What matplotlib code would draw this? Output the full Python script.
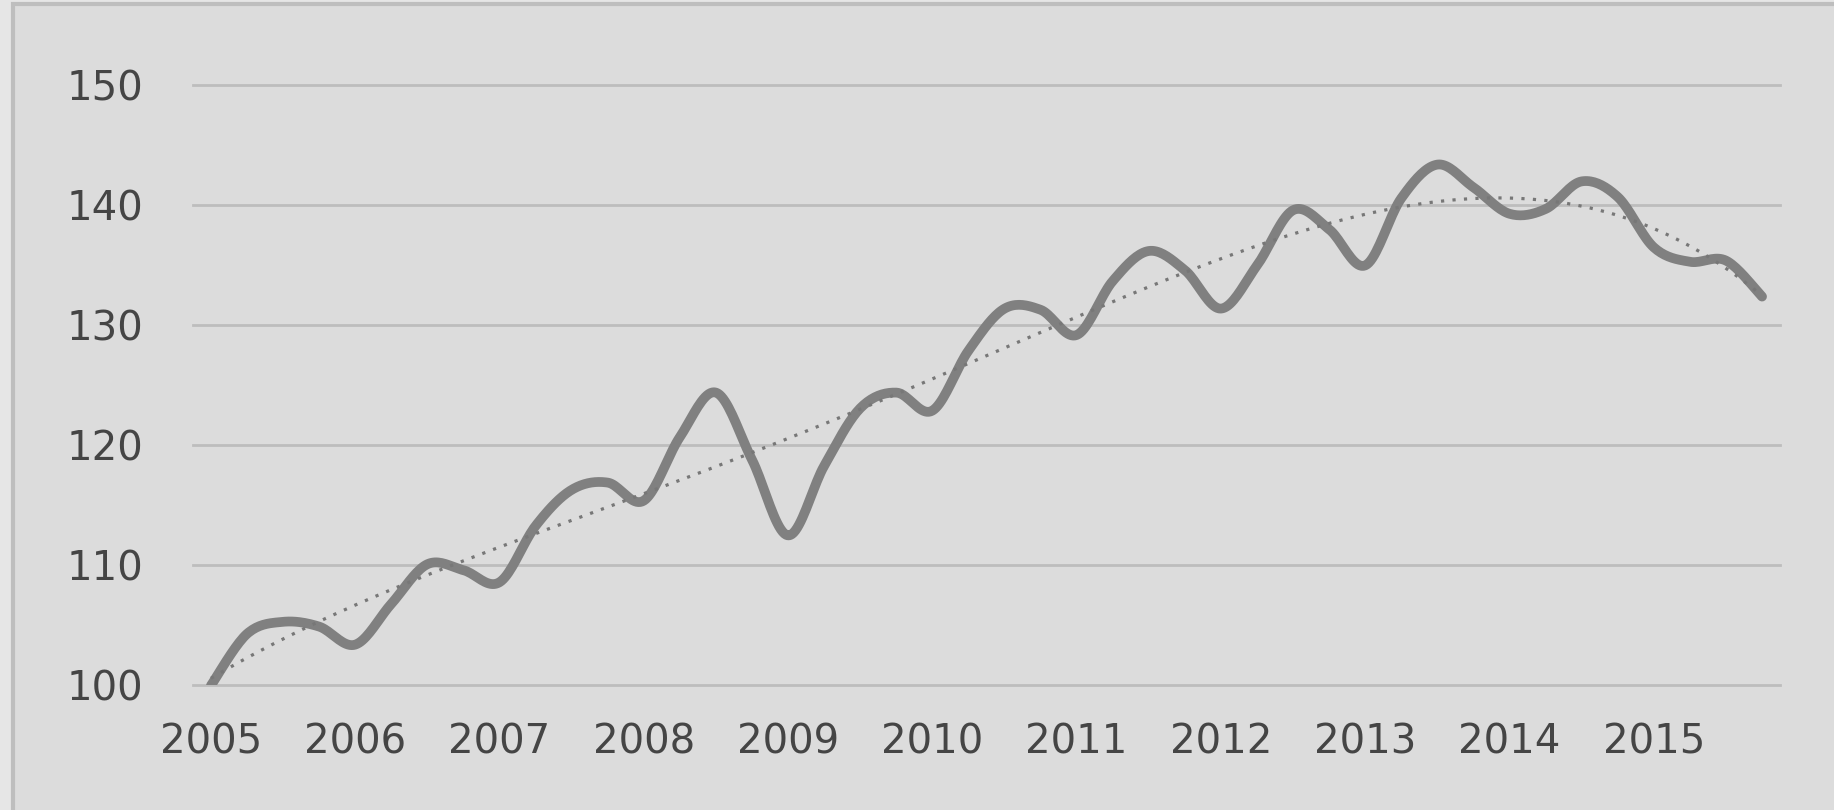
import numpy as np
import matplotlib.pyplot as plt
from matplotlib.patches import Rectangle

# quarterly index values, 2005 Q1 .. 2015 Q4
values = [100.0, 104.3, 105.3, 104.9,
          103.4, 106.8, 110.1, 109.6,
          108.6, 113.3, 116.3, 116.9,
          115.4, 120.7, 124.4, 118.8,
          112.5, 118.3, 123.1, 124.4,
          122.9, 127.9, 131.4, 131.3,
          129.2, 133.7, 136.2, 134.6,
          131.4, 135.0, 139.6, 138.0,
          135.0, 140.6, 143.4, 141.5,
          139.3, 139.7, 142.0, 140.7,
          136.5, 135.3, 135.4, 132.4]
years = [str(y) for y in range(2005, 2016)]
y_ticks = [100, 110, 120, 130, 140, 150]


def smooth(x, y, n=20):
    # catmull-rom style curve through the points, like a "smoothed line"
    x = np.asarray(x, float)
    y = np.asarray(y, float)
    px = np.concatenate([[x[0]], x, [x[-1]]])
    py = np.concatenate([[y[0]], y, [y[-1]]])
    t = np.linspace(0, 1, n, endpoint=False)[:, None]
    xs, ys = [], []
    for i in range(1, len(px) - 2):
        p0, p1, p2, p3 = (np.array([px[j], py[j]]) for j in range(i - 1, i + 3))
        c1 = p1 + (p2 - p0) / 6
        c2 = p2 - (p3 - p1) / 6
        b = ((1 - t) ** 3) * p1 + 3 * ((1 - t) ** 2) * t * c1 + 3 * (1 - t) * t ** 2 * c2 + t ** 3 * p2
        xs.append(b[:, 0])
        ys.append(b[:, 1])
    xs.append([x[-1]])
    ys.append([y[-1]])
    return np.concatenate(xs), np.concatenate(ys)


idx = np.arange(len(values))
sx, sy = smooth(idx, values)

# polynomial trend line (order 4)
coef = np.polyfit(idx + 1.0, values, 4)
tx = np.linspace(0, len(values) - 1, 400)
ty = np.polyval(coef, tx + 1.0)

fig = plt.figure(figsize=(18.34, 8.10), dpi=100, facecolor='#e6e6e6')
fig.patches.append(Rectangle((13 / 1834, -0.1), 1.2, 1.1 - 4 / 810, transform=fig.transFigure,
                             facecolor='#dcdcdc', edgecolor='#bebebe', linewidth=3, zorder=-5))

ax = fig.add_axes([0.1052, 0.1538, 0.8654, 0.7408])
ax.set_zorder(2)
ax.set_facecolor('none')

ax.plot(sx, sy, color='#808080', linewidth=7, solid_capstyle='round', zorder=3)
ax.plot(tx, ty, color='#777777', linewidth=2.3, linestyle=(0, (1, 2.6)), zorder=4)

ax.set_xlim(-0.5, len(values) - 0.5)
ax.set_ylim(100, 150)
ax.set_yticks(y_ticks)
ax.set_xticks(idx[::4])
ax.set_xticklabels(years)
ax.grid(axis='y', color='#bdbdbd', linewidth=2)
for gl in ax.get_ygridlines():
    gl.set_clip_on(False)
ax.set_axisbelow(True)
for s in ax.spines.values():
    s.set_visible(False)
ax.tick_params(length=0, labelsize=29, labelcolor='#454545')
ax.tick_params(axis='x', pad=27)
ax.tick_params(axis='y', pad=36)

fig.savefig('out.png', dpi=100, facecolor=fig.get_facecolor())
